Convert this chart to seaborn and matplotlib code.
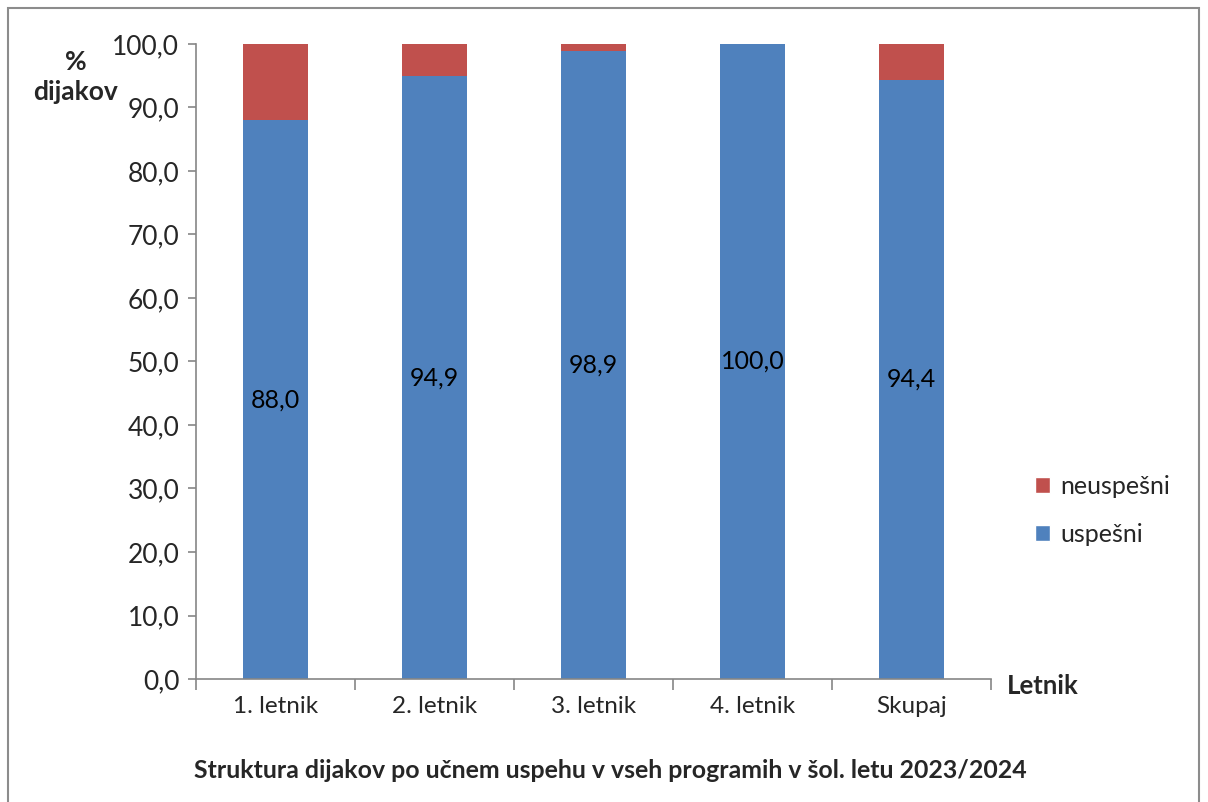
import matplotlib
matplotlib.use("Agg")
import matplotlib.pyplot as plt
import seaborn as sns
import pandas as pd
from matplotlib.patches import Rectangle, Patch

# data
categories = ['1. letnik', '2. letnik', '3. letnik', '4. letnik', 'Skupaj']
uspesni = [88.0, 94.9, 98.9, 100.0, 94.4]
neuspesni = [12.0, 5.1, 1.1, 0.0, 5.6]

BLUE = '#4F81BD'
RED = '#C0504D'
GREY = '#868686'

sns.set_style('white')
plt.rcParams['font.family'] = ['Lato', 'DejaVu Sans']

df = pd.DataFrame({'letnik': categories, 'uspesni': uspesni, 'neuspesni': neuspesni})
df['skupaj'] = df['uspesni'] + df['neuspesni']

fig = plt.figure(figsize=(12.08, 8.02), dpi=100)
ax = fig.add_axes([196 / 1208, 1 - 679 / 802, 795 / 1208, 635 / 802])

# stacked bars: total first (red), then successful part (blue) on top
sns.barplot(data=df, x='letnik', y='skupaj', color=RED, width=0.405,
            saturation=1, linewidth=0, ax=ax)
sns.barplot(data=df, x='letnik', y='uspesni', color=BLUE, width=0.405,
            saturation=1, linewidth=0, ax=ax)

for i, v in enumerate(uspesni):
    ax.text(i, v / 2, f'{v:.1f}'.replace('.', ','), ha='center', va='center',
            fontsize=18, color='black')

ax.set_ylim(0, 100)
ax.set_xlim(-0.5, 4.5)
ax.set_yticks(range(0, 101, 10))
ax.set_yticklabels([f'{t:.1f}'.replace('.', ',') for t in range(0, 101, 10)],
                   fontsize=19)
ax.set_xticks(range(5))
ax.set_xticklabels(categories, fontsize=17.5)
ax.tick_params(axis='x', length=0, pad=12)
ax.tick_params(axis='y', length=6, width=1.2, color=GREY, pad=6, left=True)
# category boundary ticks
ax.set_xticks([x - 0.5 for x in range(6)], minor=True)
ax.tick_params(axis='x', which='minor', length=8, width=1.2, color=GREY,
               bottom=True)
ax.set_xlabel('')
ax.set_ylabel('')

for side in ['top', 'right']:
    ax.spines[side].set_visible(False)
for side in ['left', 'bottom']:
    ax.spines[side].set_color(GREY)
    ax.spines[side].set_linewidth(1.2)

fig.text(76 / 1208, 1 - 62 / 802, '%', ha='center', va='center',
         fontsize=19, fontweight='bold')
fig.text(75 / 1208, 1 - 92 / 802, 'dijakov', ha='center', va='center',
         fontsize=19, fontweight='bold')
fig.text(1043 / 1208, 1 - 686 / 802, 'Letnik', ha='center', va='center',
         fontsize=18.5, fontweight='bold')
fig.text(610 / 1208, 1 - 770 / 802,
         'Struktura dijakov po učnem uspehu v vseh programih v šol. letu 2023/2024',
         ha='center', va='center', fontsize=17.9, fontweight='bold')

handles = [Patch(facecolor=RED, label='neuspešni'),
           Patch(facecolor=BLUE, label='uspešni')]
fig.legend(handles=handles, loc='center left',
           bbox_to_anchor=(1012 / 1208, 1 - 510 / 802), frameon=False,
           fontsize=18, handlelength=0.6, handleheight=0.6,
           handletextpad=0.45, labelspacing=1.0)

fig.patches.append(Rectangle((8 / 1208, -0.05), 1191 / 1208, 0.05 + 794 / 802,
                             transform=fig.transFigure, fill=False,
                             edgecolor='#8c8c8c', linewidth=1.5))

fig.savefig('out.png', dpi=100, facecolor='white')
